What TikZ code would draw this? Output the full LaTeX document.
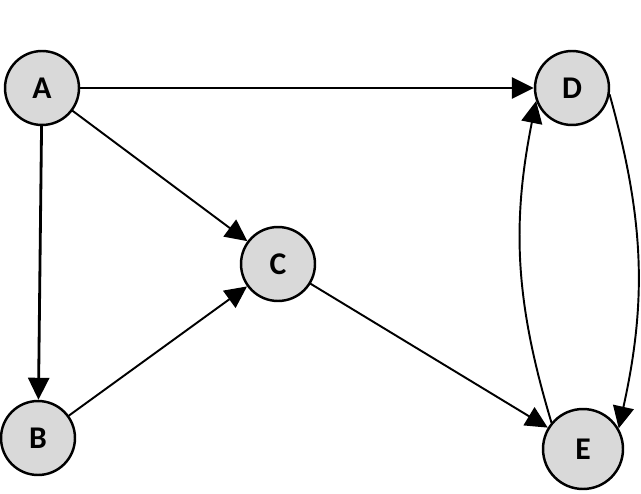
\documentclass[tikz,border=0pt]{standalone}
\usepackage{fontspec}
\setmainfont{Carlito}
\usetikzlibrary{arrows.meta}
\definecolor{nodegray}{RGB}{217,217,217}

\begin{document}
\begin{tikzpicture}[x=0.02cm, y=-0.02cm, line join=round, line cap=round,
    vertex/.style={circle, draw, fill=nodegray, line width=1.4pt, minimum size=1.48cm,
      inner sep=0pt, font=\fontsize{18}{20}\selectfont\bfseries},
    edge/.style={line width=1.1pt, -{Triangle[length=0.44cm, width=0.42cm]}},
    heavy/.style={edge, line width=1.6pt}]
      \useasboundingbox (0,0) rectangle (641,493);

      % vertices
      \node[vertex] (A) at (42,88) {A};
      \node[vertex] (D) at (572,88) {D};
      \node[vertex] (C) at (278,264) {C};
      \node[vertex] (B) at (38,438) {B};
      \node[vertex, minimum height=1.6cm] (E) at (583,449) {E};

      % edges
      \draw[heavy] (A) -- (D);
      \draw[heavy] (A) -- (B);
      \draw[edge] (A) -- (C);
      \draw[edge] (B) -- (C);
      \draw[edge] (C) -- (E);
      \draw[edge] (D.-10) to[bend left=14] (E.30);
      \draw[edge] (E.140) to[bend left=14] (D.200);

    \end{tikzpicture}
\end{document}
